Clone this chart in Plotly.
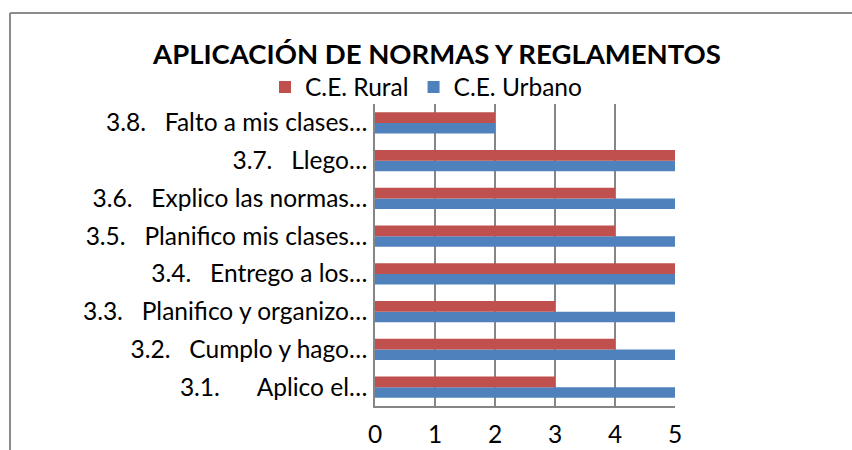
import plotly.graph_objects as go

NB = "\u00a0"
categories = [
    "3.1." + NB * 6 + "Aplico el…",
    "3.2." + NB * 3 + "Cumplo y hago…",
    "3.3." + NB * 3 + "Planifico y organizo…",
    "3.4." + NB * 3 + "Entrego a los…",
    "3.5." + NB * 3 + "Planifico mis clases…",
    "3.6." + NB * 3 + "Explico las normas…",
    "3.7." + NB * 3 + "Llego…",
    "3.8." + NB * 3 + "Falto a mis clases…",
]
rural = [3, 4, 3, 5, 4, 4, 5, 2]
urbano = [5, 5, 5, 5, 5, 5, 5, 2]
x_ticks = [0, 1, 2, 3, 4, 5]

FONT = "Lato"
W, H = 852, 450
L, R, T, B = 375, 675, 104, 406

fig = go.Figure()
fig.add_trace(go.Bar(y=categories, x=urbano, orientation="h", name="C.E. Urbano",
                     marker=dict(color="#4F81BD", line=dict(width=0))))
fig.add_trace(go.Bar(y=categories, x=rural, orientation="h", name="C.E. Rural",
                     marker=dict(color="#C0504D", line=dict(width=0))))


def px(xp):
    return (xp - L) / (R - L)


def py(yp):
    return (B - yp) / (B - T)


fig.update_layout(
    width=W, height=H, autosize=False,
    margin=dict(l=L, r=W - R, t=T, b=H - B, autoexpand=False),
    paper_bgcolor="white", plot_bgcolor="white",
    barmode="group", bargap=0.44, bargroupgap=0,
    font=dict(family=FONT, size=24.5, color="#000000"),
    title=dict(text="<b>APLICACIÓN DE NORMAS Y REGLAMENTOS</b>",
               font=dict(family=FONT, size=27.5, color="#000000"),
               x=437 / W, xanchor="center", y=1 - 54 / H, yanchor="middle",
               automargin=False),
    showlegend=True,
    legend=dict(orientation="h", traceorder="reversed",
                x=px(265), xanchor="left", y=py(87), yanchor="middle",
                font=dict(family=FONT, size=24.5, color="#000000"),
                itemwidth=30, tracegroupgap=0, bgcolor="rgba(0,0,0,0)",
                borderwidth=0),
    xaxis=dict(range=[0, 5], tickvals=x_ticks, ticktext=[str(v) for v in x_ticks],
               showgrid=True, gridcolor="#868686", gridwidth=1.5,
               showline=True, linecolor="#868686", linewidth=1.5,
               zeroline=False, ticks="", ticklabelstandoff=6, automargin=False,
               tickfont=dict(family=FONT, size=24.5, color="#000000"),
               fixedrange=True),
    yaxis=dict(type="category", categoryorder="array", categoryarray=categories,
               showgrid=False, showline=True, linecolor="#868686", linewidth=1.5,
               ticks="", ticklabelstandoff=1, automargin=False,
               tickfont=dict(family=FONT, size=24.5, color="#000000"),
               fixedrange=True),
    shapes=[
        dict(type="line", xref="paper", yref="paper",
             x0=px(10), x1=px(W + 5), y0=py(13), y1=py(13),
             line=dict(color="#8C8C8C", width=2)),
        dict(type="line", xref="paper", yref="paper",
             x0=px(10), x1=px(10), y0=py(13), y1=py(H + 5),
             line=dict(color="#8C8C8C", width=2)),
    ],
)

fig.write_html("out.html", config={"displayModeBar": False},
               post_script="document.body.style.margin='0px';")
